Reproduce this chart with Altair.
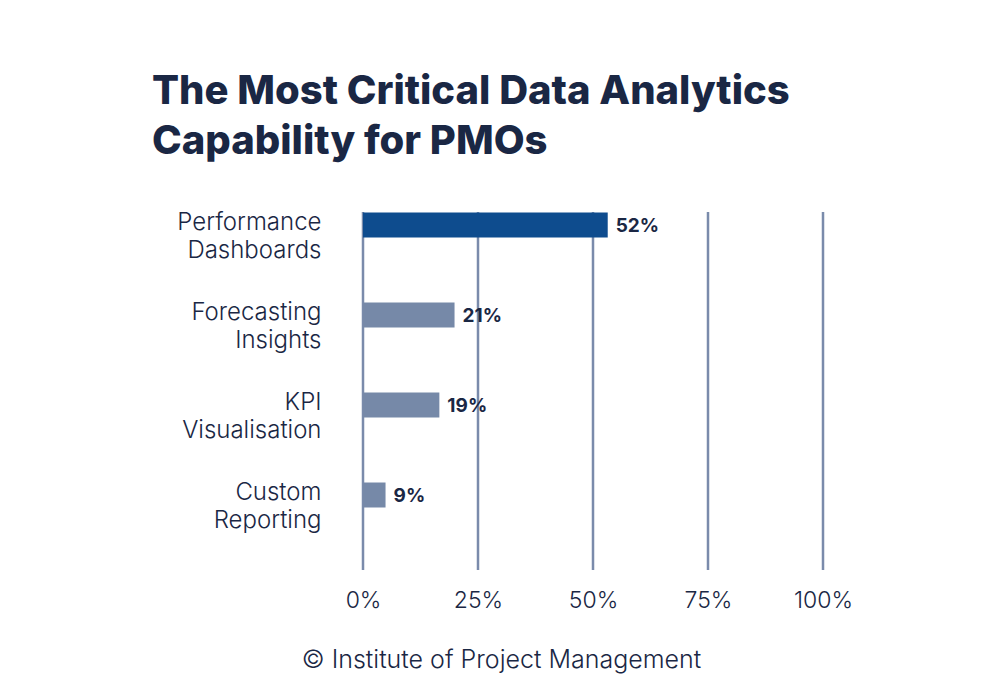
import altair as alt
import pandas as pd

# capabilities, bar lengths as drawn (%), printed labels
categories = ["Performance|Dashboards", "Forecasting|Insights", "KPI\u00a0|Visualisation", "Custom|Reporting"]
bar_values = [53.2, 19.9, 16.6, 4.9]
value_labels = ["52%", "21%", "19%", "9%"]
highlight = [True, False, False, False]
grid_ticks = [0, 25, 50, 75, 100]

df = pd.DataFrame({
    "cap": categories,
    "val": bar_values,
    "lab": value_labels,
    "hi": highlight,
})
grid_df = pd.DataFrame({"val": grid_ticks})

navy = "#1a2744"
font = "Inter"

x_scale = alt.Scale(domain=[0, 100], nice=False)
y_enc = alt.Y("cap:N", sort=None,
              scale=alt.Scale(paddingInner=0, paddingOuter=0),
              axis=alt.Axis(title=None, domain=False, ticks=False, grid=False,
                            labelExpr="split(datum.label, '|')",
                            labelFont=font, labelFontSize=24, labelFontWeight=300,
                            labelColor=navy,
                            labelLineHeight=28, labelPadding=42, labelOffset=-2,
                            labelBaseline="middle"))

x_enc = alt.X("val:Q", scale=x_scale,
              axis=alt.Axis(values=grid_ticks,
                            labelExpr="datum.value + '%'",
                            labelFlush=False,
                            title="\u00a9 Institute of Project Management",
                            titleFont=font, titleFontSize=25, titleFontWeight=300,
                            titleColor=navy, titleX=138, titleY=107, titleAlign="center",
                            domain=False, ticks=False, grid=False,
                            labelFont=font, labelFontSize=23, labelFontWeight=300,
                            labelColor=navy, labelPadding=49))

# gridlines drawn as rules so they stop short of the plot top, under the bars
grid = alt.Chart(grid_df).mark_rule(color="#7a8bab", strokeWidth=2.5).encode(
    x=alt.X("val:Q", scale=x_scale),
    y=alt.value(32),
    y2=alt.value(390),
)

bars = alt.Chart(df).mark_bar(size=25).encode(
    x=x_enc,
    y=y_enc,
    color=alt.Color("hi:N", scale=alt.Scale(domain=[True, False], range=["#0e4c8e", "#7689a8"]),
                    legend=None),
)

text = alt.Chart(df).mark_text(align="left", dx=8, dy=1, font=font, fontSize=19,
                               fontWeight="bold", color=navy).encode(
    x="val:Q",
    y=alt.Y("cap:N", sort=None),
    text="lab:N",
)

chart = alt.layer(grid, bars, text).properties(
    width=460,
    height=360,
    background="white",
    autosize=alt.AutoSizeParams(type="none"),
    padding={"left": 355, "top": 172, "right": 150, "bottom": 150},
    title=alt.TitleParams(
        ["The Most Critical Data Analytics", "Capability for PMOs"],
        anchor="start", frame="group", dx=-211, dy=0,
        font=font, fontSize=40, fontWeight=800, color=navy, lineHeight=50,
        offset=18,
    ),
).configure_view(stroke="transparent", strokeWidth=0).configure_axis(grid=False)

chart.save("out.html", embed_options={"renderer": "svg", "actions": False})
